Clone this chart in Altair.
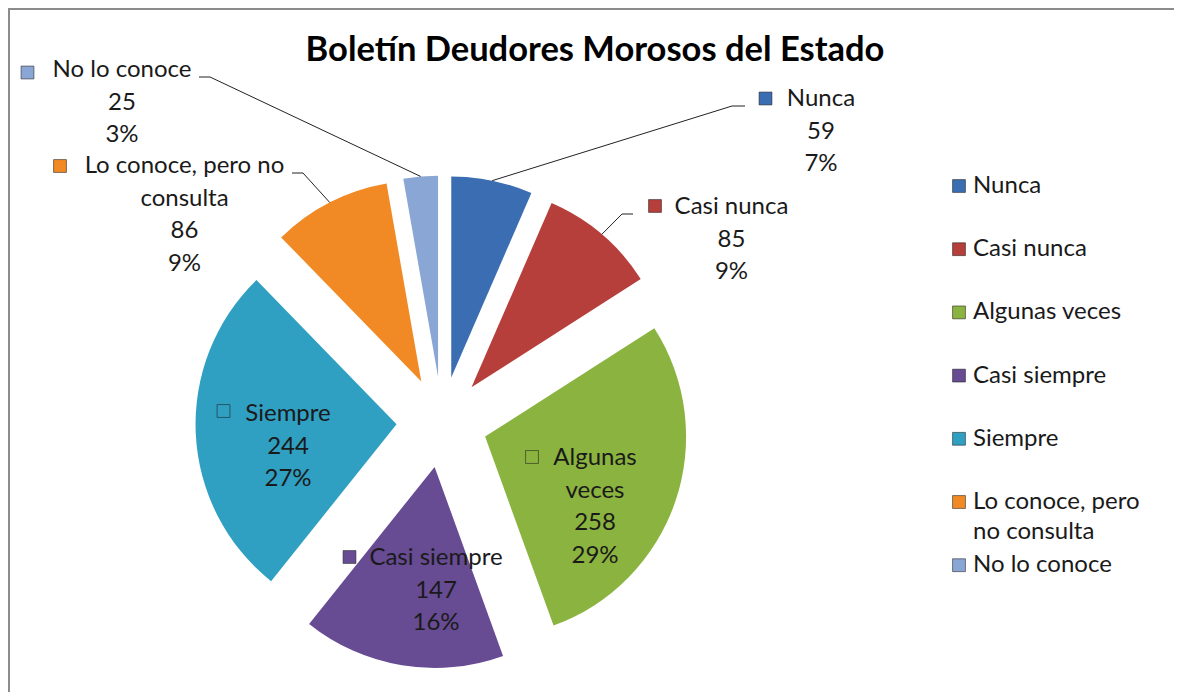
import math
import altair as alt
import pandas as pd

# ---------------- data ----------------
categories = ["Nunca", "Casi nunca", "Algunas veces", "Casi siempre", "Siempre",
              "Lo conoce, pero no consulta", "No lo conoce"]
values = [59, 85, 258, 147, 244, 86, 25]
percent_labels = ["7%", "9%", "29%", "16%", "27%", "9%", "3%"]
# category names as wrapped in the data labels and in the legend
label_names = ["Nunca", "Casi nunca", "Algunas\nveces", "Casi siempre", "Siempre",
               "Lo conoce, pero no\nconsulta", "No lo conoce"]
legend_names = ["Nunca", "Casi nunca", "Algunas veces", "Casi siempre", "Siempre",
                "Lo conoce, pero\nno consulta", "No lo conoce"]
title_text = "Boletín Deudores Morosos del Estado"

# ---------------- style / layout (page pixels) ----------------
colors = ["#3B6DB2", "#B63E3B", "#8BB33F", "#674B93", "#2F9FC2", "#F18A25", "#8AA6D5"]
W, H = 1166, 684
M = 8
CX, CY, R, EXPLODE = 442, 422, 201, 45.5
FONT = "Lato"
# data label: text centre x, first baseline y, marker centre x, marker centre y
label_layout = {
    "Nunca": (821, 106, 765.5, 98.5),
    "Casi nunca": (731.5, 214, 655, 206),
    "Algunas veces": (595, 465, 532, 457),
    "Casi siempre": (436, 565, 349.5, 557),
    "Siempre": (288, 421, 223.5, 411),
    "Lo conoce, pero no consulta": (184.5, 173, 60, 166),
    "No lo conoce": (122, 77, 27.5, 72.5),
}
# leader lines: elbow point and end point near the label
leader_layout = {
    "Nunca": ((732, 106), (745, 106)),
    "Casi nunca": ((622, 214), (633, 214)),
    "Lo conoce, pero no consulta": ((303, 173), (292, 173)),
    "No lo conoce": ((210, 77), (199, 77)),
}
LEG_MX, LEG_TX, LEG_Y0, LEG_STEP = 959, 973, 193, 63.2

xs = alt.Scale(domain=[M, M + W], range=[0, W], zero=False, nice=False)
ys = alt.Scale(domain=[M, M + H], range=[0, H], zero=False, nice=False)
cscale = alt.Scale(domain=categories, range=colors)
TOTAL = sum(values)

df = pd.DataFrame({
    "category": categories,
    "value": values,
    "pct": percent_labels,
    "order": list(range(len(categories))),
})
df["label"] = [f"{n}\n{v}\n{p}" for n, v, p in zip(label_names, values, percent_labels)]
df["lx"] = [label_layout[c][0] for c in categories]
df["ly"] = [label_layout[c][1] for c in categories]
df["mx"] = [label_layout[c][2] for c in categories]
df["my"] = [label_layout[c][3] for c in categories]
df["legend"] = legend_names
df["leg_y"] = [LEG_Y0 + i * LEG_STEP for i in range(len(categories))]
df["leg_my"] = df["leg_y"] - 7

# leader lines start on the outer arc of the exploded slice, at its middle angle
rows = []
cum = 0
for c, v in zip(categories, values):
    mid = 2 * math.pi * (cum + v / 2) / TOTAL
    cum += v
    if c in leader_layout:
        sx = CX + (EXPLODE + R) * math.sin(mid)
        sy = CY - (EXPLODE + R) * math.cos(mid)
        (ex, ey), (hx, hy) = leader_layout[c]
        rows += [
            {"category": c, "seq": 0, "x": sx, "y": sy},
            {"category": c, "seq": 1, "x": ex, "y": ey},
            {"category": c, "seq": 2, "x": hx, "y": hy},
        ]
leaders_df = pd.DataFrame(rows)

base = alt.Chart(df)

arcs = base.transform_joinaggregate(
    total="sum(value)"
).transform_window(
    cum="sum(value)", sort=[alt.SortField("order")]
).transform_calculate(
    start="datum.cum - datum.value",
    mid="PI * (2 * datum.cum - datum.value) / datum.total",
).transform_calculate(
    sx=f"{CX} + {EXPLODE} * sin(datum.mid)",
    sy=f"{CY} - {EXPLODE} * cos(datum.mid)",
).mark_arc(outerRadius=R).encode(
    theta=alt.Theta("start:Q", scale=alt.Scale(domain=[0, TOTAL]), stack=False),
    theta2="cum:Q",
    x=alt.X("sx:Q", scale=xs, axis=None),
    y=alt.Y("sy:Q", scale=ys, axis=None),
    color=alt.Color("category:N", scale=cscale, legend=None),
)

leaders = alt.Chart(leaders_df).mark_line(color="#222222", strokeWidth=1).encode(
    x=alt.X("x:Q", scale=xs, axis=None),
    y=alt.Y("y:Q", scale=ys, axis=None),
    detail="category:N",
    order="seq:Q",
)

label_marks = base.mark_square(size=165, opacity=1, stroke="#1e1e1e",
                               strokeWidth=1, strokeOpacity=0.55).encode(
    x=alt.X("mx:Q", scale=xs, axis=None),
    y=alt.Y("my:Q", scale=ys, axis=None),
    color=alt.Color("category:N", scale=cscale, legend=None),
)

labels = base.mark_text(align="center", baseline="alphabetic", lineBreak="\n",
                        lineHeight=32.5, fontSize=24, font=FONT, color="#1a1a1a").encode(
    x=alt.X("lx:Q", scale=xs, axis=None),
    y=alt.Y("ly:Q", scale=ys, axis=None),
    text="label:N",
)

legend_marks = base.mark_square(size=165, opacity=1, stroke="#1e1e1e",
                                strokeWidth=1, strokeOpacity=0.55).encode(
    x=alt.X("datum_x:Q", scale=xs, axis=None),
    y=alt.Y("leg_my:Q", scale=ys, axis=None),
    color=alt.Color("category:N", scale=cscale, legend=None),
).transform_calculate(datum_x=str(LEG_MX))

legend_text = base.mark_text(align="left", baseline="alphabetic", lineBreak="\n",
                             lineHeight=30, fontSize=24, font=FONT, color="#1a1a1a").encode(
    x=alt.X("datum_x:Q", scale=xs, axis=None),
    y=alt.Y("leg_y:Q", scale=ys, axis=None),
    text="legend:N",
).transform_calculate(datum_x=str(LEG_TX))

title_df = pd.DataFrame({"t": [title_text], "x": [595], "y": [61]})
title = alt.Chart(title_df).mark_text(align="center", baseline="alphabetic", fontSize=34.5,
                                      fontWeight="bold", font=FONT, color="#000000").encode(
    x=alt.X("x:Q", scale=xs, axis=None),
    y=alt.Y("y:Q", scale=ys, axis=None),
    text="t:N",
)

frame_data = alt.Data(values=[{"k": 1}])
frame_left = alt.Chart(frame_data).mark_rule(color="#8c8c8c", strokeWidth=2).encode(
    x=alt.value(1), y=alt.value(0), y2=alt.value(H))
frame_top = alt.Chart(frame_data).mark_rule(color="#8c8c8c", strokeWidth=2).encode(
    x=alt.value(0), x2=alt.value(W), y=alt.value(1))

chart = alt.layer(
    frame_left, frame_top, arcs, leaders, label_marks, labels,
    legend_marks, legend_text, title
).properties(
    width=W, height=H, padding=0,
    autosize=alt.AutoSizeParams(type="none"),
).configure_view(strokeWidth=0)

chart.save("out.html", embed_options={"renderer": "svg", "actions": False})
